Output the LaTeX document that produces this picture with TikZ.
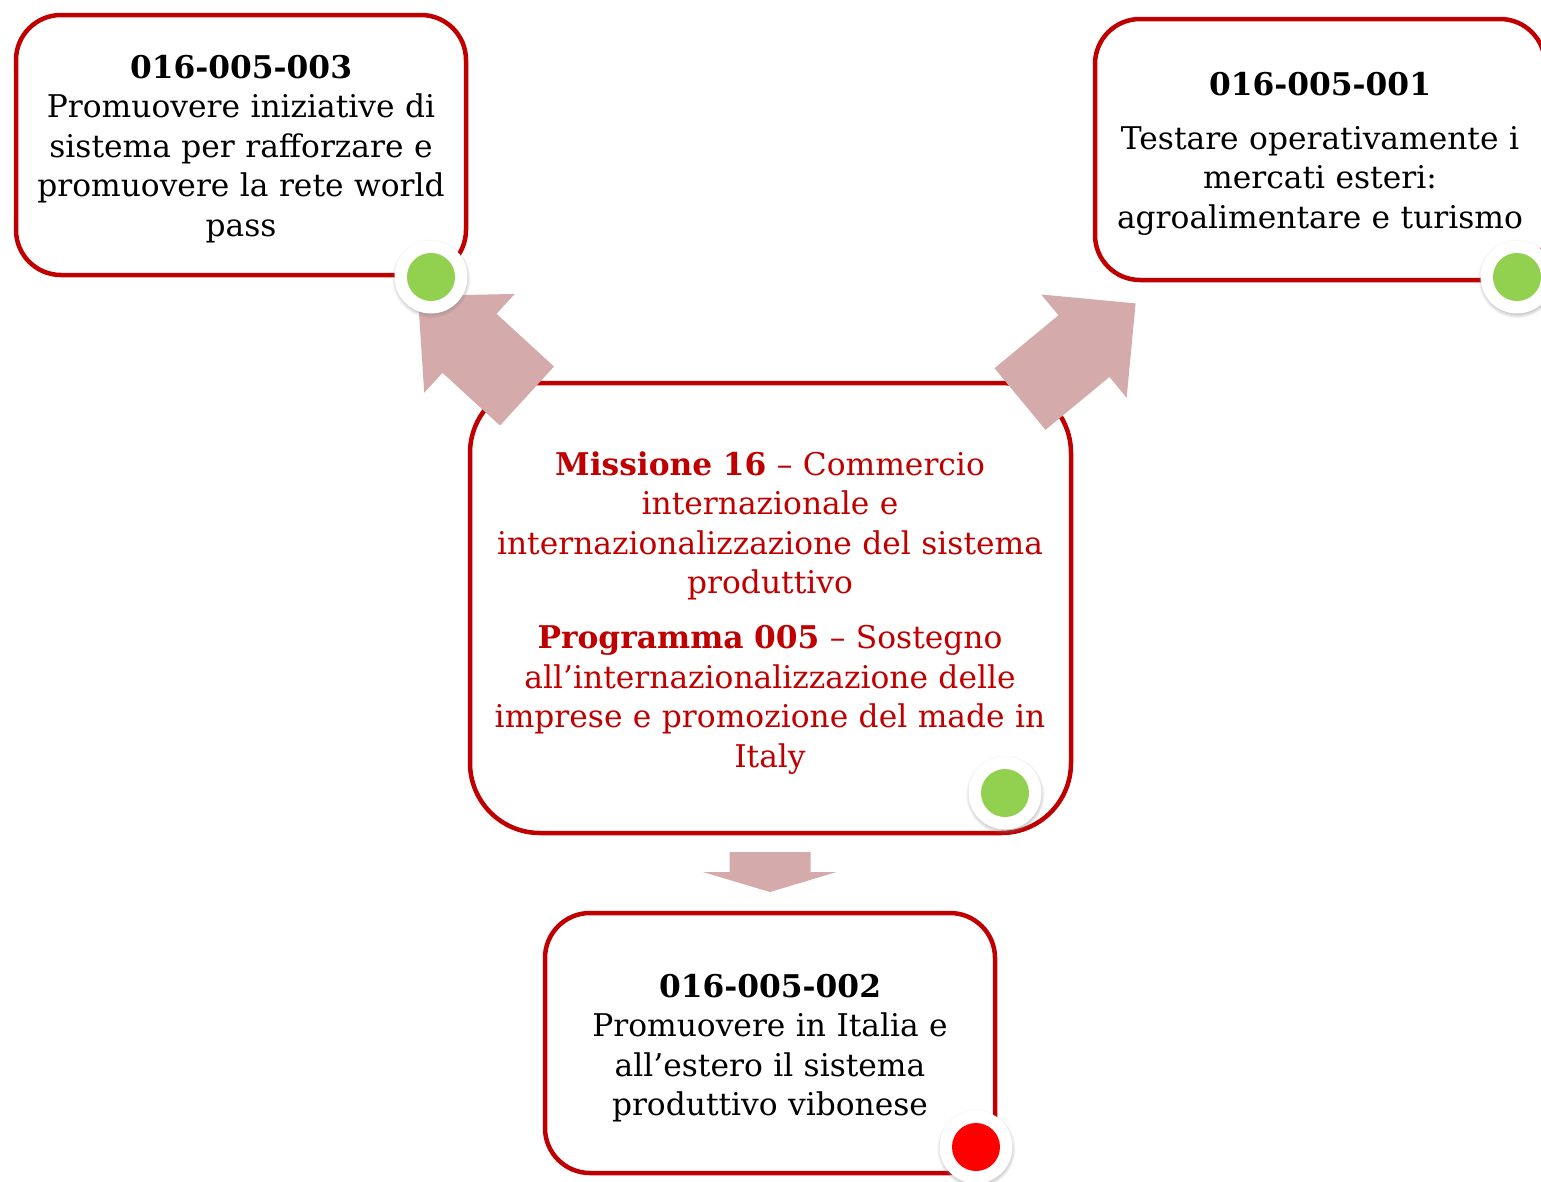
\documentclass[tikz,border=0pt]{standalone}
\usepackage{fontspec}
\setmainfont{DejaVu Serif}
\usetikzlibrary{shadows}
\definecolor{boxred}{RGB}{192,0,0}
\definecolor{arrowc}{RGB}{212,170,170}
\definecolor{dotgreen}{RGB}{146,208,80}
\definecolor{dotred}{RGB}{255,0,0}
\tikzset{
  box/.style={draw=boxred, line width=4.5pt, fill=white, rectangle, rounded corners=45pt, inner sep=0pt},
  txt/.style={text width=560pt, align=center, inner sep=0pt, anchor=base,
    font=\fontsize{31.3}{39.5}\selectfont},
  ring/.style={circle, fill=white, minimum size=73pt, inner sep=0pt,
    circular drop shadow={shadow xshift=0pt, shadow yshift=-1.5pt, shadow scale=1.08, opacity=0.5}},
  dot/.style={circle, minimum size=48pt, inner sep=0pt},
  blockarrow/.style={fill=arrowc, draw=none}
}
\begin{document}
\begin{tikzpicture}[x=1pt,y=-1pt]
\useasboundingbox (0,0) rectangle (1541,1181);
\clip (0,0) rectangle (1541,1181);
% boxes
\node[box, minimum width=450pt, minimum height=260pt] (b1) at (241,145) {};
\node[box, minimum width=450pt, minimum height=261pt] (b2) at (1320,149.5) {};
\node[box, rounded corners=70pt, minimum width=601pt, minimum height=450pt] (bc) at (770.5,608) {};
\node[box, minimum width=450pt, minimum height=260pt] (b3) at (770,1043) {};
% texts
\node[txt] (t1) at (241,78) {\textbf{016-005-003}\\Promuovere iniziative di\\sistema per rafforzare e\\promuovere la rete world\\pass};
\node[txt] (t2) at (1320,95) {\textbf{016-005-001}\\[14.5pt]Testare operativamente i\\mercati esteri:\\agroalimentare e turismo};
\node[txt, text=boxred] (tc) at (770,475) {\textbf{Missione 16} -- Commercio\\internazionale e\\internazionalizzazione del sistema\\produttivo\\[15.5pt]\textbf{Programma 005} -- Sostegno\\all’internazionalizzazione delle\\imprese e promozione del made in\\Italy};
\node[txt] (t3) at (770,997) {\textbf{016-005-002}\\Promuovere in Italia e\\all’estero il sistema\\produttivo vibonese};
% arrows
\coordinate (a1) at (527,396);
\coordinate (a2) at (1020,399);
\begin{scope}[shift={(a1)}, rotate=137.5]
  \fill[blockarrow] (0,-40) -- (78,-40) -- (78,-67) -- (148,0) -- (78,67) -- (78,40) -- (0,40) -- cycle;
\end{scope}
\begin{scope}[shift={(a2)}, rotate=39.6]
  \fill[blockarrow] (0,-40) -- (83,-40) -- (83,-67) -- (150,0) -- (83,67) -- (83,40) -- (0,40) -- cycle;
\end{scope}
\coordinate (a3) at (770,852);
\fill[blockarrow] (a3) ++(-40.5,0) -- ++(81,0) -- ++(0,20) -- ++(26,0) -- (770,892) -- (703,872) -- (729.5,872) -- cycle;
% status dots
\node[ring] (r1) at (431,277) {};
\node[dot, fill=dotgreen] (d1) at (r1) {};
\node[ring] (r2) at (1517,277) {};
\node[dot, fill=dotgreen] (d2) at (r2) {};
\node[ring] (rc) at (1005,793) {};
\node[dot, fill=dotgreen] (dc) at (rc) {};
\node[ring] (r3) at (976,1147) {};
\node[dot, fill=dotred] (d3) at (r3) {};
\end{tikzpicture}
\end{document}
